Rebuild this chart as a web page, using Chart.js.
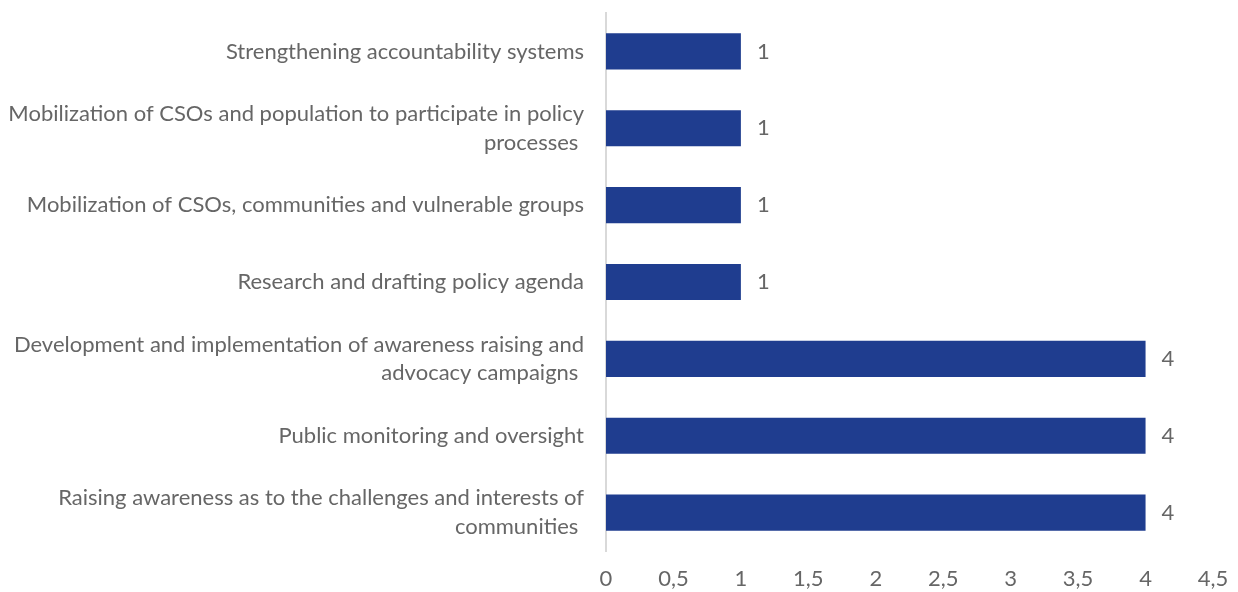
<!DOCTYPE html>
<html>
<head>
<meta charset="utf-8">
<script src="https://cdn.jsdelivr.net/npm/chart.js@4"></script>
<style>
html,body{margin:0;padding:0;background:#fff;}
#wrap{width:1238px;height:592px;}
</style>
</head>
<body>
<div id="wrap"><canvas id="myChart" width="1238" height="592"></canvas></div>
<script>
// data
const categories = [
  'Strengthening accountability systems',
  ['Mobilization of CSOs and population to participate in policy', 'processes '],
  'Mobilization of CSOs, communities and vulnerable groups',
  'Research and drafting policy agenda',
  ['Development and implementation of awareness raising and', 'advocacy campaigns '],
  'Public monitoring and oversight',
  ['Raising awareness as to the challenges and interests of', 'communities ']
];
const values = [1, 1, 1, 1, 4, 4, 4];
const xTicks = ['0', '0,5', '1', '1,5', '2', '2,5', '3', '3,5', '4', '4,5'];

const textGray = '#666666';
const fontFam = 'Lato, "Open Sans", sans-serif';

// simple value labels at bar ends
const barLabels = {
  id: 'barLabels',
  afterDatasetsDraw(chart) {
    const ctx = chart.ctx;
    const meta = chart.getDatasetMeta(0);
    ctx.save();
    ctx.fillStyle = textGray;
    ctx.font = '22px ' + fontFam;
    ctx.textAlign = 'left';
    ctx.textBaseline = 'middle';
    meta.data.forEach((bar, i) => {
      ctx.fillText(String(values[i]), bar.x + 16, bar.y);
    });
    ctx.restore();
  }
};

const ctx = document.getElementById('myChart');
new Chart(ctx, {
  type: 'bar',
  data: {
    labels: categories,
    datasets: [{
      data: values,
      backgroundColor: '#1f3d8f',
      categoryPercentage: 1,
      barPercentage: 0.47
    }]
  },
  options: {
    indexAxis: 'y',
    responsive: false,
    animation: false,
    layout: { padding: { top: 13, right: 25, bottom: 0, left: 0 } },
    plugins: { legend: { display: false }, tooltip: { enabled: false } },
    scales: {
      x: {
        min: 0, max: 4.5,
        afterFit(scale) {
          scale.height = 41;
          scale.paddingRight = 0;
          scale.paddingLeft = 0;
        },
        grid: { display: false, drawTicks: false },
        border: { display: false },
        ticks: {
          stepSize: 0.5,
          padding: 15,
          color: textGray,
          font: { size: 22, family: fontFam },
          maxRotation: 0,
          callback: (v, i) => xTicks[i]
        }
      },
      y: {
        afterFit(scale) {
          scale.width = 606;
          scale.paddingTop = 0;
          scale.paddingBottom = 0;
        },
        grid: { display: false, drawTicks: false },
        border: { display: true, color: '#d9d9d9', width: 2 },
        ticks: {
          padding: 22,
          color: textGray,
          font: { size: 22, family: fontFam, lineHeight: 1.3 }
        }
      }
    }
  },
  plugins: [barLabels]
});
</script>
</body>
</html>
